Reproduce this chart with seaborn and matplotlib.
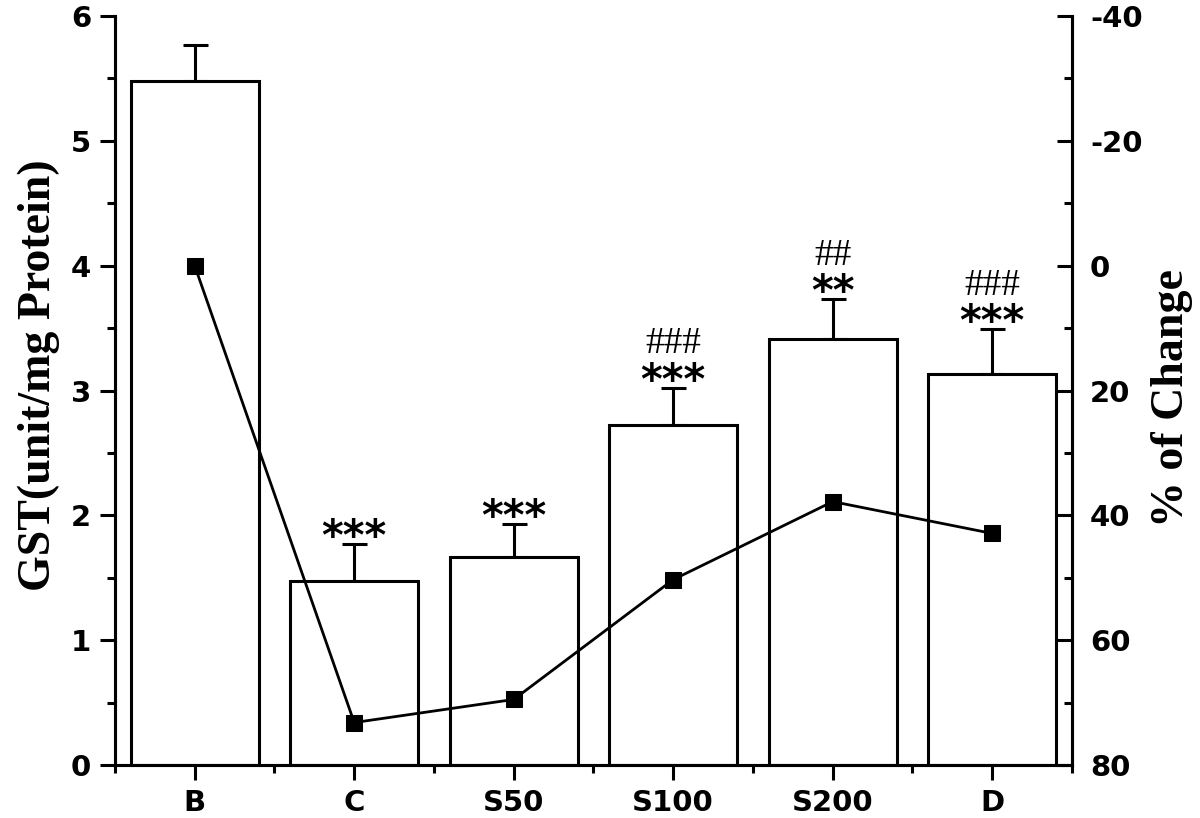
import numpy as np
import pandas as pd
import seaborn as sns
import matplotlib.pyplot as plt
from matplotlib.ticker import MultipleLocator

groups = ['B', 'C', 'S50', 'S100', 'S200', 'D']
gst_mean = [5.48, 1.47, 1.67, 2.72, 3.41, 3.13]
gst_err = [0.29, 0.30, 0.26, 0.30, 0.32, 0.36]
pct_change = [0.0, 73.2, 69.5, 50.3, 37.8, 42.9]
stars = ['', '***', '***', '***', '**', '***']
hashes = ['', '', '', '###', '##', '###']

sns.set_theme(style='ticks')
plt.rcParams['font.family'] = ['DejaVu Sans']
plt.rcParams['axes.linewidth'] = 2.2
plt.rcParams['axes.unicode_minus'] = False
plt.rcParams['text.color'] = 'black'
plt.rcParams['axes.labelcolor'] = 'black'
plt.rcParams['xtick.color'] = 'black'
plt.rcParams['ytick.color'] = 'black'
plt.rcParams['axes.edgecolor'] = 'black'

serif = ['Liberation Serif', 'DejaVu Serif']
df = pd.DataFrame({'group': groups, 'gst': gst_mean})
pos = np.arange(len(groups))

fig = plt.figure(figsize=(12, 8.18), dpi=100)
ax = fig.add_axes([0.0958, 0.0648, 0.7975, 0.9156])

# upper error bars first so the white bars hide the lower half
ax.errorbar(pos, gst_mean, yerr=[np.zeros(len(pos)), gst_err], fmt='none',
            ecolor='black', elinewidth=2.2, capsize=9, capthick=2.2, zorder=1)
sns.barplot(data=df, x='group', y='gst', ax=ax, color='white', width=0.8,
            edgecolor='black', linewidth=2.2, errorbar=None, zorder=2)
for p in ax.patches:
    p.set_facecolor('white')
    p.set_zorder(2)

ax.set_xlim(-0.5, 5.5)
ax.set_ylim(0, 6)
ax.yaxis.set_major_locator(MultipleLocator(1))
ax.yaxis.set_minor_locator(MultipleLocator(0.5))
ax.set_xticks(pos)
ax.set_xticks(np.arange(-0.5, 6, 1), minor=True)
ax.set_xticklabels(groups)
ax.tick_params(axis='both', which='major', direction='out', length=11, width=2.2,
               labelsize=21, pad=6)
ax.tick_params(axis='both', which='minor', direction='out', length=6, width=2.2)
for lab in ax.get_xticklabels() + ax.get_yticklabels():
    lab.set_fontweight('bold')
ax.set_xlabel('')
ax.set_ylabel('GST(unit/mg Protein)', fontsize=33, fontweight='bold',
              family=serif, labelpad=8)
ax.yaxis.label.set_y(0.52)
ax.spines['top'].set_visible(False)

for i in pos:
    top = gst_mean[i] + gst_err[i]
    if stars[i]:
        ax.annotate(stars[i], (i, top), xytext=(0, -4), textcoords='offset points',
                    ha='center', va='baseline', fontsize=30, fontweight='bold')
    if hashes[i]:
        ax.annotate(hashes[i], (i, top), xytext=(0, 25), textcoords='offset points',
                    ha='center', va='baseline', fontsize=27, family=serif)

ax2 = ax.twinx()
sns.lineplot(x=pos, y=pct_change, ax=ax2, color='black', linewidth=2,
             marker='s', markersize=11, markeredgecolor='black', zorder=5)
ax2.set_ylim(80, -40)
ax2.yaxis.set_major_locator(MultipleLocator(20))
ax2.yaxis.set_minor_locator(MultipleLocator(10))
ax2.tick_params(axis='y', which='major', direction='in', length=11, width=2.2,
                labelsize=21, pad=13)
ax2.tick_params(axis='y', which='minor', direction='in', length=6, width=2.2)
for lab in ax2.get_yticklabels():
    lab.set_fontweight('bold')
ax2.set_ylabel('% of Change', fontsize=33, fontweight='bold',
               family=serif, labelpad=6)
ax2.yaxis.label.set_y(0.49)
ax2.spines['top'].set_visible(False)

fig.savefig('out.png', dpi=100)
